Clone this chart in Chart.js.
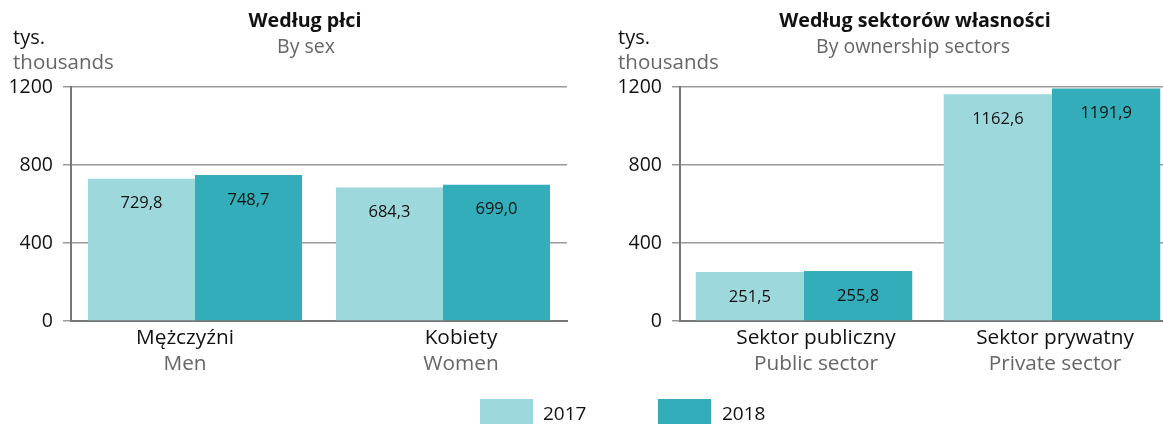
<!DOCTYPE html>
<html>
<head>
<meta charset="utf-8">
<script src="https://cdn.jsdelivr.net/npm/chart.js@4/dist/chart.umd.min.js"></script>
<style>
  html, body { margin: 0; padding: 0; background: #fff; overflow: hidden; width: 1163px; height: 424px; }
  body { position: relative; font-family: "Open Sans", sans-serif; color: #111; }
  canvas { position: absolute; top: 0; }
  .t { position: absolute; white-space: nowrap; line-height: 1; }
  .c { transform: translate(-50%, -50%); }
  .l { transform: translateY(-50%); }
  .gray { color: #666; }
  .box { position: absolute; width: 53px; height: 26px; }
</style>
</head>
<body>
<canvas id="sexChart" width="580" height="424" style="left:0px"></canvas>
<canvas id="sectorChart" width="580" height="424" style="left:609px"></canvas>

<div class="t c" style="left:305px;top:20px;font-weight:700;font-size:19.7px">Według płci</div>
<div class="t c gray" style="left:306px;top:46px;font-size:19.5px">By sex</div>
<div class="t l" style="left:13px;top:37px;font-size:20px">tys.</div>
<div class="t l gray" style="left:13px;top:61px;font-size:20.5px">thousands</div>

<div class="t c" style="left:915px;top:20px;font-weight:700;font-size:19.7px">Według sektorów własności</div>
<div class="t c gray" style="left:913px;top:46px;font-size:19.5px">By ownership sectors</div>
<div class="t l" style="left:618px;top:37px;font-size:20px">tys.</div>
<div class="t l gray" style="left:618px;top:61px;font-size:20.5px">thousands</div>

<div class="box" style="left:480px;top:399px;background:#9dd8dc"></div>
<div class="t l" style="left:543px;top:413px;font-size:19px">2017</div>
<div class="box" style="left:658px;top:399px;background:#33adb9"></div>
<div class="t l" style="left:722px;top:413px;font-size:19px">2018</div>

<script>
// data
var years = ['2017', '2018'];
var sexLabelsPl = ['Mężczyźni', 'Kobiety'];
var sexLabelsEn = ['Men', 'Women'];
var sex2017 = [729.8, 684.3];
var sex2018 = [748.7, 699.0];

var sectorLabelsPl = ['Sektor publiczny', 'Sektor prywatny'];
var sectorLabelsEn = ['Public sector', 'Private sector'];
var sector2017 = [251.5, 1162.6];
var sector2018 = [255.8, 1191.9];

var yTicks = [0, 400, 800, 1200];

var colors = ['#9dd8dc', '#33adb9'];
var fontFamily = '"Open Sans", sans-serif';

// value labels inside the bars
var valueLabels = {
  id: 'valueLabels',
  afterDatasetsDraw: function(chart) {
    var ctx = chart.ctx;
    ctx.save();
    ctx.font = '16.5px ' + fontFamily;
    ctx.fillStyle = '#111';
    ctx.textAlign = 'center';
    ctx.textBaseline = 'middle';
    chart.data.datasets.forEach(function(ds, i) {
      var meta = chart.getDatasetMeta(i);
      meta.data.forEach(function(bar, j) {
        var txt = ds.data[j].toFixed(1).replace('.', ',');
        ctx.fillText(txt, bar.x, bar.y + 25);
      });
    });
    ctx.restore();
  }
};

// two-line category labels (Polish black, English gray)
var categoryLabels = {
  id: 'categoryLabels',
  afterDraw: function(chart, args, opts) {
    var ctx = chart.ctx;
    var xs = chart.scales.x;
    ctx.save();
    ctx.font = '20.8px ' + fontFamily;
    ctx.textAlign = 'center';
    ctx.textBaseline = 'middle';
    opts.pl.forEach(function(lbl, i) {
      var x = xs.getPixelForTick(i) + (opts.nudge[i] || 0);
      ctx.fillStyle = '#111';
      ctx.fillText(lbl, x, 338);
      ctx.fillStyle = '#666';
      ctx.fillText(opts.en[i], x, 364);
    });
    ctx.restore();
  }
};

function makeChart(id, labelsPl, labelsEn, d2017, d2018, catPct, nudge) {
  var ctx = document.getElementById(id).getContext('2d');
  return new Chart(ctx, {
    type: 'bar',
    data: {
      labels: labelsPl,
      datasets: [
        { label: years[0], data: d2017, backgroundColor: colors[0], borderWidth: 0 },
        { label: years[1], data: d2018, backgroundColor: colors[1], borderWidth: 0 }
      ]
    },
    options: {
      responsive: false,
      animation: false,
      devicePixelRatio: 1,
      categoryPercentage: catPct,
      barPercentage: 1.0,
      layout: { padding: { top: 87, left: 0, right: 13, bottom: 0 } },
      plugins: {
        legend: { display: false },
        tooltip: { enabled: false },
        categoryLabels: { pl: labelsPl, en: labelsEn, nudge: nudge }
      },
      scales: {
        x: {
          ticks: { display: false },
          grid: { display: false, drawTicks: false },
          border: { display: true, color: '#777', width: 2 },
          afterFit: function(s) { s.height = 103; }
        },
        y: {
          min: 0,
          max: 1200,
          afterBuildTicks: function(s) { s.ticks = yTicks.map(function(v) { return { value: v }; }); },
          ticks: {
            color: '#111',
            font: { family: fontFamily, size: 19.5 },
            padding: 10,
            callback: function(v) { return String(v); }
          },
          grid: { color: '#9a9a9a', lineWidth: 1.5, tickLength: 8 },
          border: { display: true, color: '#777', width: 2 },
          afterFit: function(s) { s.width = 71; }
        }
      }
    },
    plugins: [valueLabels, categoryLabels]
  });
}

makeChart('sexChart', sexLabelsPl, sexLabelsEn, sex2017, sex2018, 0.863, [-10, 18]);
makeChart('sectorChart', sectorLabelsPl, sectorLabelsEn, sector2017, sector2018, 0.873, [12, 3]);
</script>
</body>
</html>
